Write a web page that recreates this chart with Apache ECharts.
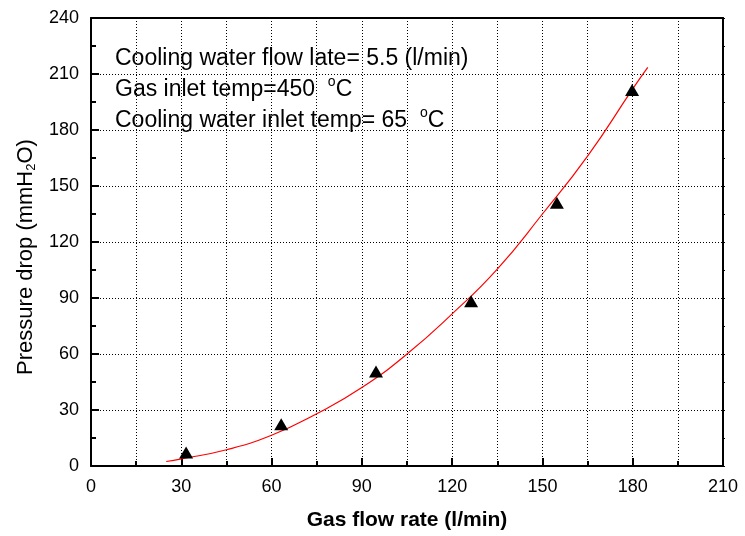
<!DOCTYPE html>
<html>
<head>
<meta charset="utf-8">
<script src="https://cdn.jsdelivr.net/npm/echarts@6/dist/echarts.min.js"></script>
<style>
  html, body { margin: 0; padding: 0; background: #fff; }
  #chart { width: 745px; height: 536px; }
</style>
</head>
<body>
<div id="chart"></div>
<script>
// Measured pressure drop vs. gas flow rate
const flowRate = [31.6, 63.2, 94.7, 126.3, 154.8, 179.8];
const pressureDrop = [7.2, 22.4, 50.6, 88.2, 141, 201.4];

// Fitted trend curve (flow rate, pressure drop)
const fitFlow = [25, 30, 45, 60, 75, 90, 105, 120, 135, 150, 165, 180, 185];
const fitDrop = [2.4, 3.8, 8.7, 16.5, 28, 42, 60, 81.5, 105.5, 135, 166, 202, 213.5];

// Axis ticks
const xTicks = [0, 30, 60, 90, 120, 150, 180, 210];
const yTicks = [0, 30, 60, 90, 120, 150, 180, 210, 240];

// Test conditions shown inside the plot
const notes = [
  'Cooling water flow late= 5.5 (l/min)',
  'Gas inlet temp=450  {sup|o}C',
  'Cooling water inlet temp= 65  {sup|o}C'
];

const FONT = '"Liberation Sans", Arial, sans-serif';
const dotted = { color: '#000', width: 1, type: [1, 2] };

const chart = echarts.init(document.getElementById('chart'), null, { renderer: 'canvas' });

const axisBase = {
  type: 'value',
  axisLine: { show: true, onZero: false, lineStyle: { color: '#000', width: 2 } },
};

chart.setOption({
  backgroundColor: '#fff',
  animation: false,
  grid: { left: 91, right: 22, top: 18, bottom: 69 },
  xAxis: [
    Object.assign({}, axisBase, {
      min: xTicks[0], max: xTicks[xTicks.length - 1], interval: xTicks[1] - xTicks[0],
      position: 'bottom',
      axisTick: { show: true, inside: true, length: 8, lineStyle: { color: '#000', width: 2 } },
      minorTick: { show: true, splitNumber: 2, length: 5, lineStyle: { color: '#000', width: 2 } },
      splitLine: { show: true, lineStyle: dotted },
      minorSplitLine: { show: true, lineStyle: dotted },
      axisLabel: { color: '#000', fontFamily: FONT, fontSize: 18, margin: 12 },
      name: 'Gas flow rate (l/min)',
      nameLocation: 'middle',
      nameGap: 44,
      nameTextStyle: { color: '#000', fontFamily: FONT, fontSize: 21, fontWeight: 'bold' }
    }),
    Object.assign({}, axisBase, {
      min: xTicks[0], max: xTicks[xTicks.length - 1], interval: xTicks[1] - xTicks[0],
      position: 'top',
      axisTick: { show: false },
      axisLabel: { show: false },
      splitLine: { show: false }
    })
  ],
  yAxis: [
    Object.assign({}, axisBase, {
      min: yTicks[0], max: yTicks[yTicks.length - 1], interval: yTicks[1] - yTicks[0],
      position: 'left',
      axisTick: { show: true, inside: true, length: 8, lineStyle: { color: '#000', width: 2 } },
      minorTick: { show: true, splitNumber: 2, length: 5, lineStyle: { color: '#000', width: 2 } },
      splitLine: { show: true, lineStyle: dotted },
      axisLabel: { color: '#000', fontFamily: FONT, fontSize: 18, margin: 12 },
      name: 'Pressure drop (mmH{sub|2}O)',
      nameLocation: 'middle',
      nameRotate: 90,
      nameGap: 52,
      nameTextStyle: {
        color: '#000', fontFamily: FONT, fontSize: 22, lineHeight: 25,
        padding: [0, 30, 0, 0],
        rich: { sub: { fontFamily: FONT, fontSize: 13, color: '#000', verticalAlign: 'bottom', lineHeight: 9 } }
      }
    }),
    Object.assign({}, axisBase, {
      min: yTicks[0], max: yTicks[yTicks.length - 1], interval: yTicks[1] - yTicks[0],
      position: 'right',
      axisTick: { show: true, inside: false, length: 2, lineStyle: { color: '#000', width: 1 } },
      minorTick: { show: true, splitNumber: 2, length: 2, lineStyle: { color: '#000', width: 1 } },
      axisLabel: { show: false },
      splitLine: { show: false }
    })
  ],
  series: [
    {
      type: 'line',
      data: fitFlow.map((x, i) => [x, fitDrop[i]]),
      smooth: true,
      symbol: 'none',
      lineStyle: { color: '#ff0000', width: 1.2 },
      z: 2
    },
    {
      type: 'scatter',
      data: flowRate.map((x, i) => [x, pressureDrop[i]]),
      symbol: 'triangle',
      symbolSize: [14, 12],
      itemStyle: { color: '#000', opacity: 1 },
      z: 3
    }
  ],
  graphic: notes.map((t, i) => ({
    type: 'text',
    left: 115,
    top: 44 + i * 31,
    style: {
      text: t,
      fill: '#000',
      font: '23px ' + FONT,
      lineHeight: 29,
      rich: { sup: { fontSize: 14, fontFamily: FONT, fill: '#000', verticalAlign: 'top', lineHeight: 6 } }
    }
  }))
});
</script>
</body>
</html>
